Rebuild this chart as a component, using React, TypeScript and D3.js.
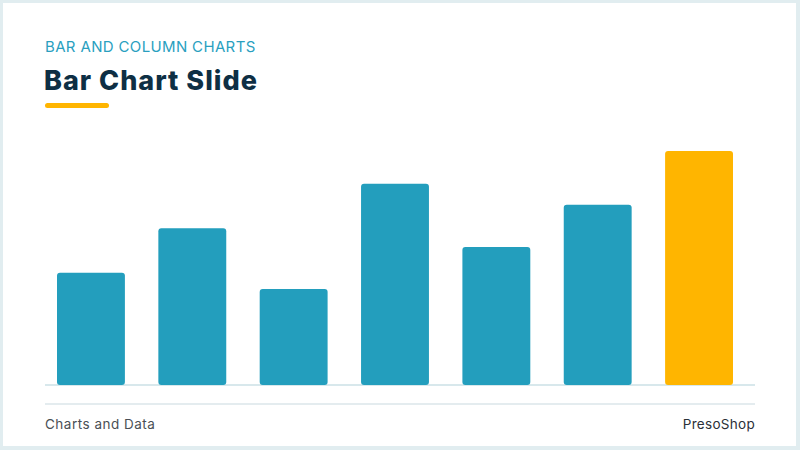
import React, { useEffect, useRef } from 'react';
import * as d3 from 'd3';

// Chart data
const categories = ['A', 'B', 'C', 'D', 'E', 'F', 'G'];
const values = [48, 67, 41, 86, 59, 77, 100];
const highlightIndex = 6;

const TEAL = '#239ebd';
const GOLD = '#ffb500';
const NAVY = '#0e2f44';
const FONT = 'Inter, "Open Sans", sans-serif';

const App: React.FC = () => {
  const ref = useRef<SVGSVGElement>(null);

  useEffect(() => {
    if (!ref.current) return;
    document.body.style.margin = '0';

    const svg = d3.select(ref.current);
    svg.selectAll('*').remove();

    const width = 800;
    const height = 450;

    // Slide background with light frame
    svg.append('rect')
      .attr('width', width)
      .attr('height', height)
      .attr('fill', '#e1edf0');
    svg.append('rect')
      .attr('x', 3)
      .attr('y', 3)
      .attr('width', width - 7)
      .attr('height', height - 7)
      .attr('fill', '#ffffff');

    // Headings
    svg.append('text')
      .attr('x', 45)
      .attr('y', 52)
      .attr('font-family', FONT)
      .attr('font-size', '15px')
      .attr('letter-spacing', '0.35px')
      .attr('fill', '#2a9fbf')
      .text('BAR AND COLUMN CHARTS');

    svg.append('text')
      .attr('x', 44)
      .attr('y', 90)
      .attr('font-family', FONT)
      .attr('font-size', '27px')
      .attr('font-weight', 800)
      .attr('letter-spacing', '1px')
      .attr('fill', NAVY)
      .text('Bar Chart Slide');

    svg.append('rect')
      .attr('x', 45)
      .attr('y', 103)
      .attr('width', 64)
      .attr('height', 5)
      .attr('rx', 2.5)
      .attr('fill', GOLD);

    // Scales
    const x = d3.scaleBand<string>()
      .domain(categories)
      .range([57, 733])
      .paddingInner(0.33)
      .paddingOuter(0);

    const y = d3.scaleLinear()
      .domain([0, 100])
      .range([385, 151]);

    // Baseline
    svg.append('line')
      .attr('x1', 45)
      .attr('x2', 755)
      .attr('y1', y(0))
      .attr('y2', y(0))
      .attr('stroke', '#d8e8ec')
      .attr('stroke-width', 2);

    // Bars
    svg.selectAll('.bar')
      .data(values)
      .enter()
      .append('rect')
      .attr('class', 'bar')
      .attr('x', (_d, i) => x(categories[i]) as number)
      .attr('y', (d) => y(d))
      .attr('width', x.bandwidth())
      .attr('height', (d) => y(0) - y(d))
      .attr('rx', 3)
      .attr('fill', (_d, i) => (i === highlightIndex ? GOLD : TEAL));

    // Footer
    svg.append('line')
      .attr('x1', 45)
      .attr('x2', 755)
      .attr('y1', 404)
      .attr('y2', 404)
      .attr('stroke', '#dbe6ea')
      .attr('stroke-width', 1.5);

    svg.append('text')
      .attr('x', 45)
      .attr('y', 429)
      .attr('font-family', FONT)
      .attr('font-size', '13.5px')
      .attr('letter-spacing', '0.5px')
      .attr('fill', '#4a4f55')
      .text('Charts and Data');

    svg.append('text')
      .attr('x', 755)
      .attr('y', 429)
      .attr('text-anchor', 'end')
      .attr('font-family', FONT)
      .attr('font-size', '13.5px')
      .attr('letter-spacing', '0.3px')
      .attr('fill', '#2b3038')
      .text('PresoShop');
  }, []);

  return (
    <svg
      ref={ref}
      width={800}
      height={450}
      style={{ position: 'absolute', top: 0, left: 0, display: 'block' }}
    />
  );
};

export default App;
